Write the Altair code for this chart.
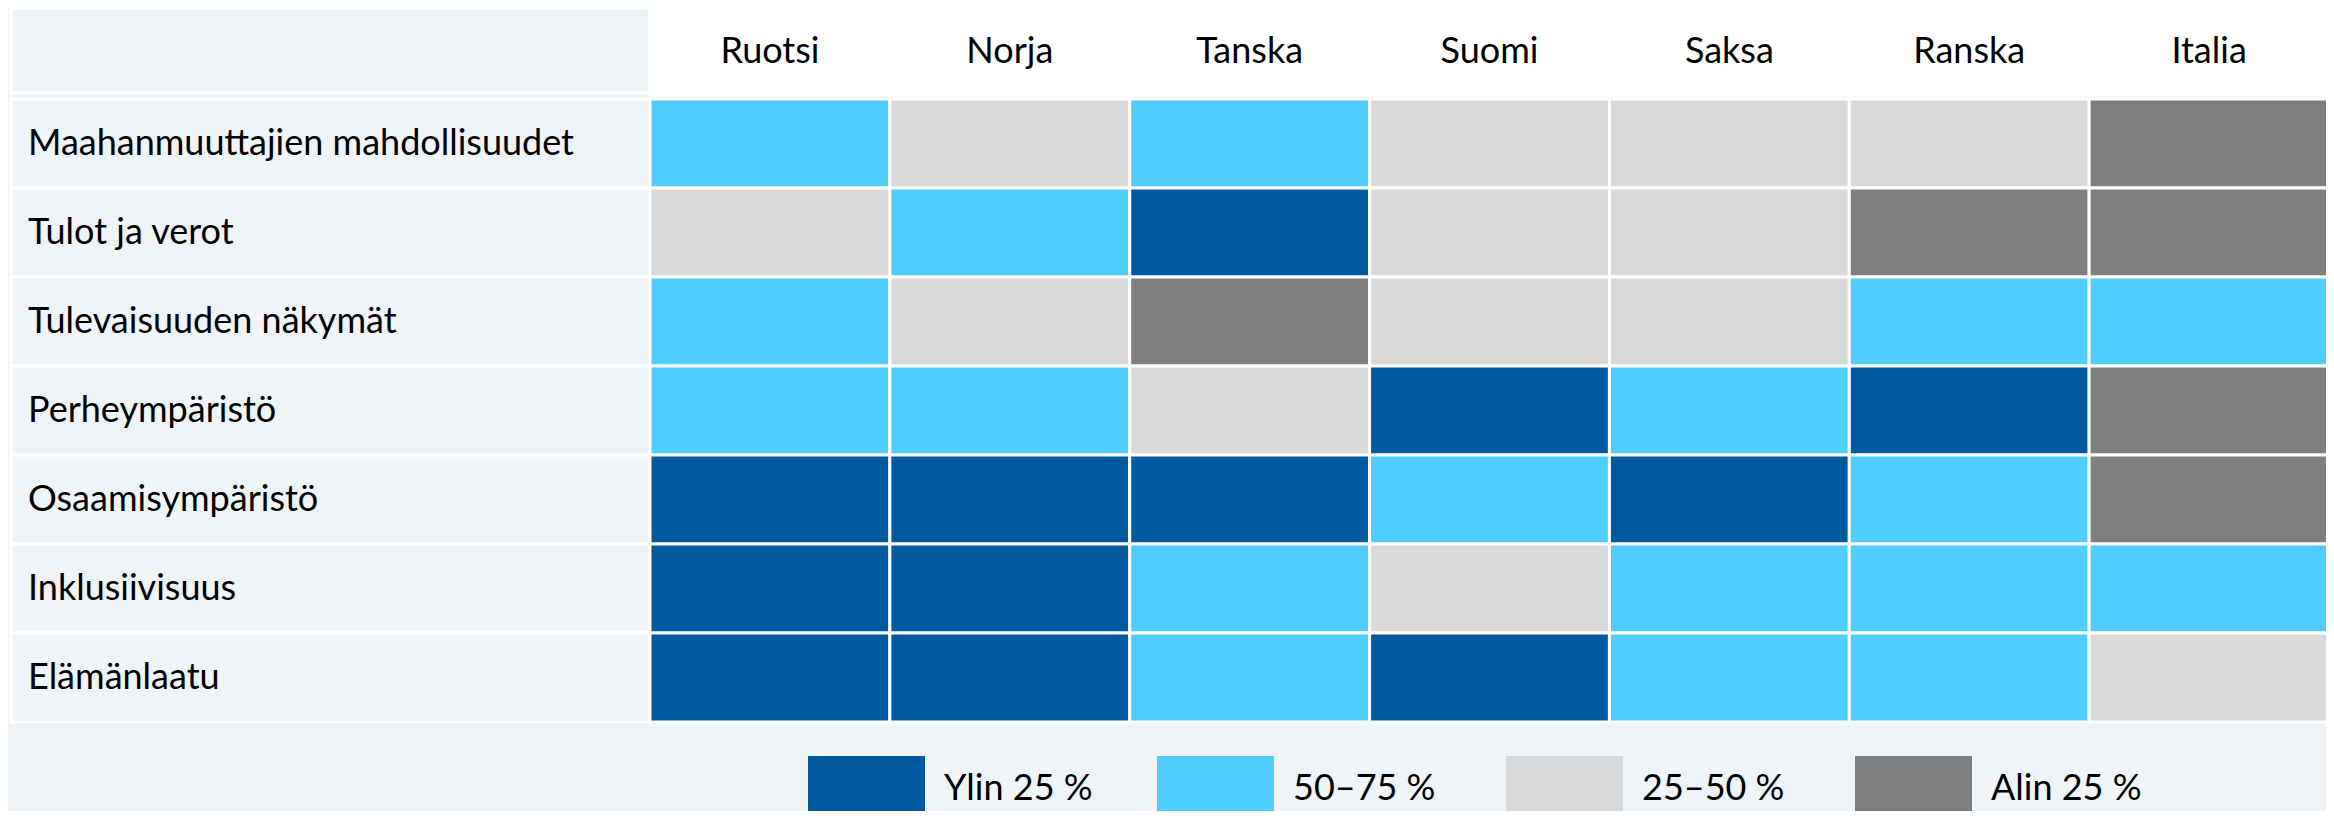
import altair as alt
import pandas as pd

countries = ["Ruotsi", "Norja", "Tanska", "Suomi", "Saksa", "Ranska", "Italia"]
indicators = [
    "Maahanmuuttajien mahdollisuudet",
    "Tulot ja verot",
    "Tulevaisuuden näkymät",
    "Perheympäristö",
    "Osaamisympäristö",
    "Inklusiivisuus",
    "Elämänlaatu",
]
levels = ["Ylin 25 %", "50–75 %", "25–50 %", "Alin 25 %"]
level_colors = ["#005AA0", "#4FCDFF", "#D9D9D9", "#7F7F7F"]

# level index (0 = Ylin 25 %, 1 = 50–75 %, 2 = 25–50 %, 3 = Alin 25 %) per indicator row
row_maahanmuuttajat = [1, 2, 1, 2, 2, 2, 3]
row_tulot = [2, 1, 0, 2, 2, 3, 3]
row_tulevaisuus = [1, 2, 3, 2, 2, 1, 1]
row_perhe = [1, 1, 2, 0, 1, 0, 3]
row_osaaminen = [0, 0, 0, 1, 0, 1, 3]
row_inklusiivisuus = [0, 0, 1, 2, 1, 1, 1]
row_elamanlaatu = [0, 0, 1, 0, 1, 1, 2]
matrix = [row_maahanmuuttajat, row_tulot, row_tulevaisuus, row_perhe,
          row_osaaminen, row_inklusiivisuus, row_elamanlaatu]

BG = "#EFF4F9"
FONT = "Lato"
FS = 36

cells = pd.DataFrame(
    [{"indicator": ind, "country": c, "level": levels[matrix[i][j]]}
     for i, ind in enumerate(indicators) for j, c in enumerate(countries)]
)
rows_df = pd.DataFrame({"indicator": indicators})
cols_df = pd.DataFrame({"country": countries})
one_df = pd.DataFrame({"k": [0]})

xs = alt.Scale(domain=countries, range=[642, 2321], paddingInner=0, paddingOuter=0)
ys = alt.Scale(domain=indicators, range=[91, 714], paddingInner=0, paddingOuter=0)

label_cells = alt.Chart(rows_df).mark_rect(fill=BG, stroke="white", strokeWidth=3).encode(
    x=alt.value(3), x2=alt.value(642),
    y=alt.Y("indicator:N", scale=ys, axis=None),
)
corner_cell = alt.Chart(one_df).mark_rect(fill=BG, stroke="white", strokeWidth=3).encode(
    x=alt.value(3), x2=alt.value(642), y=alt.value(0), y2=alt.value(85),
)
header_cells = alt.Chart(cols_df).mark_rect(fill="white", stroke="white", strokeWidth=3).encode(
    x=alt.X("country:N", scale=xs, axis=None),
    y=alt.value(-2), y2=alt.value(87),
)
data_cells = alt.Chart(cells).mark_rect(stroke="white", strokeWidth=3).encode(
    x=alt.X("country:N", scale=xs, axis=None),
    y=alt.Y("indicator:N", scale=ys, axis=None),
    fill=alt.Fill(
        "level:N",
        scale=alt.Scale(domain=levels, range=level_colors),
        legend=alt.Legend(
            orient="none", legendX=800, legendY=722, direction="horizontal",
            title=None, padding=0, gridAlign="all",
            symbolType="M-1,-0.56H1V0.56H-1Z", symbolSize=13689,
            symbolStrokeWidth=0, symbolOpacity=1,
            labelFont=FONT, labelFontSize=FS, labelColor="black",
            labelOffset=19, columnPadding=62, labelLimit=400,
        ),
    ),
)
header_text = alt.Chart(cols_df).mark_text(
    font=FONT, fontSize=FS, color="black", baseline="middle"
).encode(
    x=alt.X("country:N", scale=xs, axis=None, bandPosition=0.5),
    y=alt.value(44),
    text="country:N",
)
row_text = alt.Chart(rows_df).mark_text(
    font=FONT, fontSize=FS, color="black", align="left", baseline="middle"
).encode(
    x=alt.value(20),
    y=alt.Y("indicator:N", scale=ys, axis=None, bandPosition=0.5),
    text="indicator:N",
)

chart = alt.layer(
    label_cells, corner_cell, header_cells, data_cells, header_text, row_text
).properties(
    width=2318, height=803, padding=0, autosize=alt.AutoSizeParams(type="none"),
    background=BG,
).configure_view(stroke=None)

chart.save("out.html", embed_options={"renderer": "svg", "actions": False})
